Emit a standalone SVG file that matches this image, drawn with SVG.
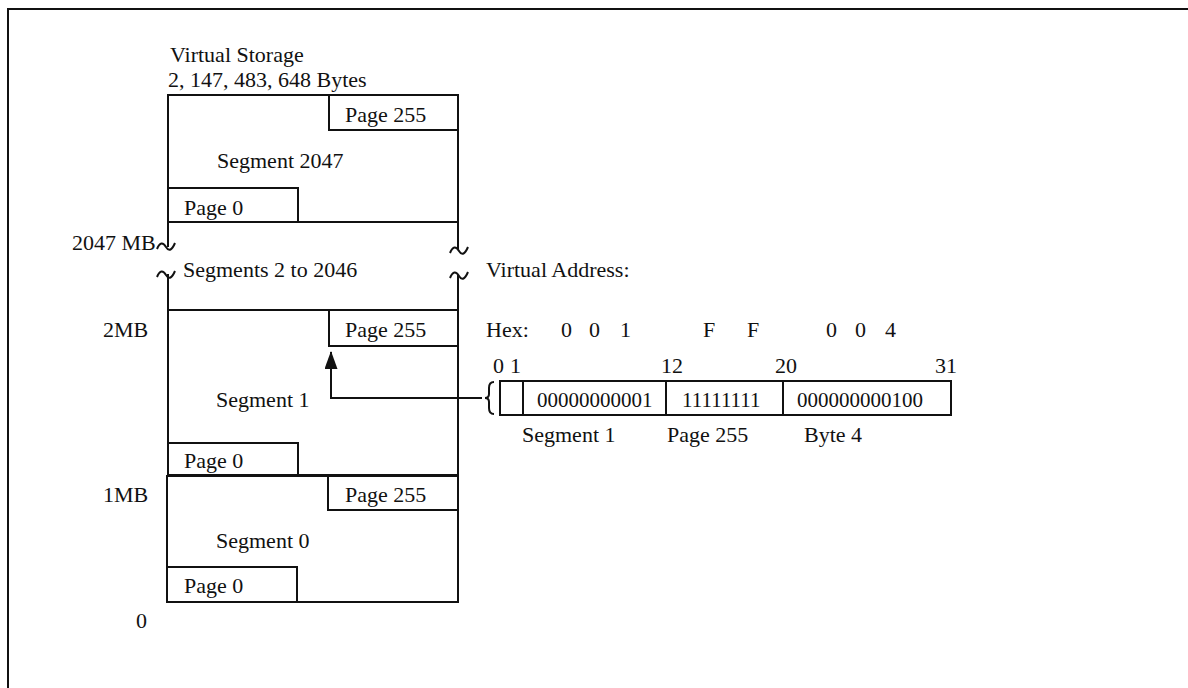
<svg xmlns="http://www.w3.org/2000/svg" width="1188" height="688" viewBox="0 0 1188 688">
<style>
text{font-family:"Liberation Serif","Times New Roman",serif;font-size:22px;fill:#111}
text.d{font-size:21px}
.ln{fill:none;stroke:#111;stroke-width:2}
.bx{fill:#fff;stroke:#111;stroke-width:2}
</style>
<defs>
<marker id="ah" markerWidth="18" markerHeight="13" refX="17" refY="6.5" orient="auto" markerUnits="userSpaceOnUse" viewBox="0 0 18 13">
<path d="M0,0 L18,6.5 L0,13 Z" fill="#111"/>
</marker>
<path id="tl" d="M0,5 c3,-7 6,-7 9,-2 s6,3 9,-4" fill="none" stroke="#111" stroke-width="2"/>
</defs>
<rect width="1188" height="688" fill="#fff"/>
<g id="frame"><path class="ln" d="M8,688 V9 H1188"/></g>

<g id="title">
<text x="170" y="62">Virtual Storage</text>
<text x="168" y="87">2, 147, 483, 648 Bytes</text>
</g>

<g id="segment2047">
<path class="ln" d="M168,247 V95 H458 V249"/>
<line class="ln" x1="168" y1="222" x2="458" y2="222"/>
<rect class="bx" x="329" y="95" width="129" height="35"/>
<text x="345" y="122">Page 255</text>
<text x="217" y="168">Segment 2047</text>
<rect class="bx" x="168" y="188" width="130" height="34"/>
<text x="184" y="215">Page 0</text>
</g>

<g id="gap">
<text x="72" y="250">2047 MB</text>
<use href="#tl" x="157" y="244"/>
<use href="#tl" x="450" y="248"/>
<use href="#tl" x="157" y="272"/>
<use href="#tl" x="450" y="273"/>
<line class="ln" x1="168" y1="274" x2="168" y2="310"/>
<line class="ln" x1="458" y1="275" x2="458" y2="310"/>
<text x="183" y="277">Segments 2 to 2046</text>
</g>

<g id="segment1">
<rect class="bx" x="168" y="310" width="290" height="165"/>
<rect class="bx" x="329" y="310" width="129" height="36"/>
<text x="345" y="337">Page 255</text>
<text x="216" y="407">Segment 1</text>
<rect class="bx" x="168" y="443" width="130" height="32"/>
<text x="184" y="468">Page 0</text>
<text x="103" y="337">2MB</text>
</g>

<g id="segment0">
<rect class="bx" x="167" y="476" width="291" height="126"/>
<rect class="bx" x="328" y="476" width="130" height="34"/>
<text x="345" y="502">Page 255</text>
<text x="216" y="548">Segment 0</text>
<rect class="bx" x="167" y="567" width="130" height="35"/>
<text x="184" y="593">Page 0</text>
<text x="103" y="502">1MB</text>
<text x="136" y="628">0</text>
</g>

<g id="connectors">
<path class="ln" d="M482,398 H331 V352" marker-end="url(#ah)"/>
</g>

<g id="virtual-address">
<text x="486" y="277">Virtual Address:</text>
<text x="486" y="337">Hex:</text>
<text x="561" y="337">0</text>
<text x="589" y="337">0</text>
<text x="620" y="337">1</text>
<text x="703" y="337">F</text>
<text x="747" y="337">F</text>
<text x="826" y="337">0</text>
<text x="855" y="337">0</text>
<text x="885" y="337">4</text>
<text x="493" y="373">0</text>
<text x="510" y="373">1</text>
<text x="661" y="373">12</text>
<text x="775" y="373">20</text>
<text x="935" y="373">31</text>
<path class="ln" d="M494,382 q-5,0 -5,6 v6 q0,4 -4,4 q4,0 4,4 v6 q0,6 5,6"/>
<rect class="bx" x="500" y="381" width="451" height="34"/>
<line class="ln" x1="523" y1="381" x2="523" y2="415"/>
<line class="ln" x1="666" y1="381" x2="666" y2="415"/>
<line class="ln" x1="783" y1="381" x2="783" y2="415"/>
<text class="d" x="537" y="407">00000000001</text>
<text class="d" x="682" y="407">11111111</text>
<text class="d" x="797" y="407">000000000100</text>
<text x="522" y="442">Segment 1</text>
<text x="667" y="442">Page 255</text>
<text x="804" y="442">Byte 4</text>
</g>
</svg>
